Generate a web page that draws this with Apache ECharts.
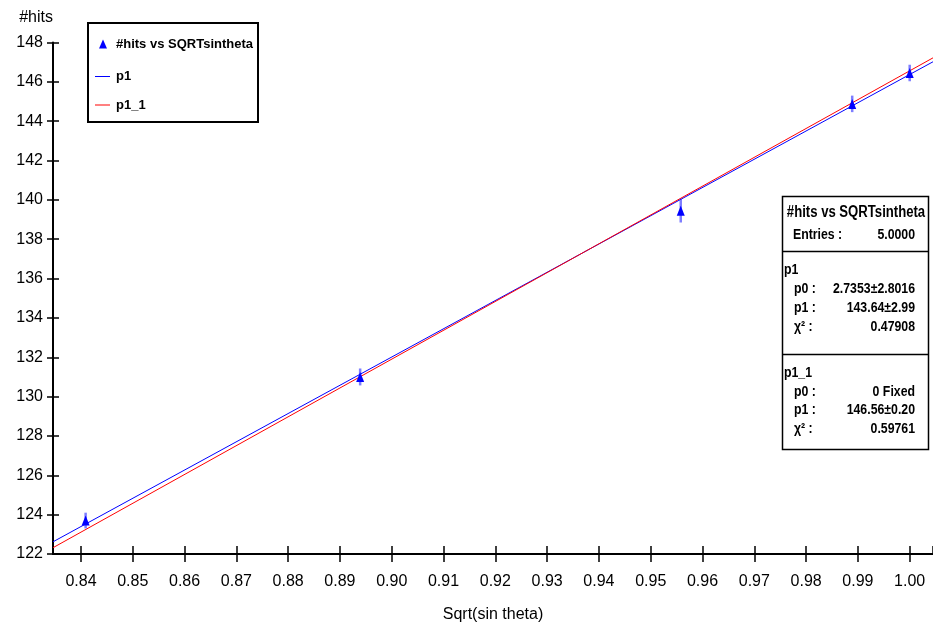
<!DOCTYPE html>
<html><head><meta charset="utf-8">
<script src="https://cdn.jsdelivr.net/npm/echarts@6/dist/echarts.min.js"></script>
<style>html,body{margin:0;padding:0;background:#fff}#c{width:933px;height:624px}</style>
</head><body><div id="c"></div>
<script>
// ---- data ----
const xValues = [0.8409, 0.8939, 0.9558, 0.9889, 1.0000];
const yValues = [123.70, 131.00, 139.45, 144.88, 146.45];
const yErrors = [0.40, 0.43, 0.60, 0.42, 0.42];
const p1Line  = [[0.8346, 122.62], [1.0045, 147.02]];
const p11Line = [[0.8346, 122.32], [1.0045, 147.22]];
const xRange = [0.8346, 1.0045];
const yRange = [122, 148];
const yInterval = 2;
const xTitle = 'Sqrt(sin theta)';
const yTitle = '#hits';
const seriesNames = ['#hits vs SQRTsintheta', 'p1', 'p1_1'];
const statsTitle = '#hits vs SQRTsintheta';
const statsEntries = ['Entries :', '5.0000'];
const statsP1Name = 'p1';
const statsP1Labels = ['p0 :', 'p1 :', 'χ² :'];
const statsP1Values = ['2.7353±2.8016', '143.64±2.99', '0.47908'];
const statsP11Name = 'p1_1';
const statsP11Labels = ['p0 :', 'p1 :', 'χ² :'];
const statsP11Values = ['0 Fixed', '146.56±0.20', '0.59761'];

const FONT = "'Liberation Sans Narrow','Arial Narrow','Liberation Sans',Arial,sans-serif";
const BLUE = '#0000ff', RED = '#ff0000';

const points = xValues.map((x, i) => [x, yValues[i], yErrors[i]]);

function txt(x, y, text, align, size) {
  return { type: 'text', x: x, y: y, silent: true, scaleX: 0.82, scaleY: 1,
    style: { text: text, fill: '#000', fontSize: size || 15, fontWeight: 'bold',
      fontFamily: FONT, align: align || 'left', verticalAlign: 'middle' } };
}

const graphics = [];
// legend frame
graphics.push({ type: 'rect', shape: { x: 88, y: 23, width: 170, height: 99 },
  style: { fill: '#fff', stroke: '#000', lineWidth: 2 }, z: 0, silent: true });
// stats box
graphics.push({ type: 'rect', shape: { x: 782.5, y: 196.5, width: 146, height: 253 },
  style: { fill: '#fff', stroke: '#000', lineWidth: 1.5 }, z: 10, silent: true });
graphics.push({ type: 'line', shape: { x1: 782.5, y1: 251.5, x2: 928.5, y2: 251.5 },
  style: { stroke: '#000', lineWidth: 1.5 }, z: 11, silent: true });
graphics.push({ type: 'line', shape: { x1: 782.5, y1: 354.5, x2: 928.5, y2: 354.5 },
  style: { stroke: '#000', lineWidth: 1.5 }, z: 11, silent: true });
const statTexts = [];
statTexts.push(txt(856, 213, statsTitle, 'center', 16));
statTexts.push(txt(793, 235, statsEntries[0], 'left'));
statTexts.push(txt(915, 235, statsEntries[1], 'right'));
statTexts.push(txt(784, 270, statsP1Name, 'left'));
[289, 308, 327].forEach((y, i) => {
  statTexts.push(txt(794, y, statsP1Labels[i], 'left'));
  statTexts.push(txt(915, y, statsP1Values[i], 'right'));
});
statTexts.push(txt(784, 373, statsP11Name, 'left'));
[392, 410, 429].forEach((y, i) => {
  statTexts.push(txt(794, y, statsP11Labels[i], 'left'));
  statTexts.push(txt(915, y, statsP11Values[i], 'right'));
});
statTexts.forEach(t => { t.z = 12; graphics.push(t); });

const labelStyle = { fontFamily: FONT, fontSize: 16, color: '#000' };
const baseX = { type: 'value', min: xRange[0], max: xRange[1], splitNumber: 17, splitLine: { show: false } };
const baseY = { type: 'value', min: yRange[0], max: yRange[1], interval: yInterval, splitLine: { show: false } };

const legendText = { fontFamily: FONT, fontSize: 13, fontWeight: 'bold', color: '#000' };

const option = {
  animation: false,
  backgroundColor: '#fff',
  graphic: graphics,
  grid: { left: 53, right: 0, top: 42.5, bottom: 70, containLabel: false, outerBoundsMode: 'none' },
  legend: [
    { orient: 'vertical', padding: 0, selectedMode: false, z: 5,
      left: 99, top: 37.5, itemWidth: 8, itemHeight: 9, itemGap: 0,
      data: [{ name: seriesNames[0], icon: 'triangle', itemStyle: { color: BLUE, opacity: 1 } }],
      textStyle: Object.assign({}, legendText, { padding: [0, 0, 0, 4] }) },
    { orient: 'vertical', padding: 0, selectedMode: false, z: 5,
      left: 95, top: 70, itemWidth: 15, itemHeight: 1,
      data: [{ name: seriesNames[1], icon: 'rect', itemStyle: { color: BLUE } }],
      textStyle: Object.assign({}, legendText, { padding: [0, 0, 0, 1] }) },
    { orient: 'vertical', padding: 0, selectedMode: false, z: 5,
      left: 95, top: 98.5, itemWidth: 15, itemHeight: 1,
      data: [{ name: seriesNames[2], icon: 'rect', itemStyle: { color: RED } }],
      textStyle: Object.assign({}, legendText, { padding: [0, 0, 0, 1] }) }
  ],
  xAxis: [
    Object.assign({}, baseX, {
      name: xTitle, nameLocation: 'middle', nameGap: 53,
      nameTextStyle: { fontFamily: FONT, fontSize: 16, color: '#000' },
      axisLine: { show: true, lineStyle: { color: '#000', width: 2 } },
      axisTick: { show: true, inside: false, length: 8, lineStyle: { color: '#000', width: 1.5 } },
      axisLabel: Object.assign({}, labelStyle, { margin: 20, showMinLabel: false, showMaxLabel: false,
        formatter: v => v.toFixed(2) })
    }),
    Object.assign({}, baseX, {
      position: 'bottom',
      axisLine: { show: false },
      axisTick: { show: true, inside: true, length: 8, lineStyle: { color: '#000', width: 1.5 } },
      axisLabel: { show: false }
    })
  ],
  yAxis: [
    Object.assign({}, baseY, {
      name: yTitle, nameLocation: 'end', nameGap: 25,
      nameTextStyle: { fontFamily: FONT, fontSize: 16, color: '#000', align: 'right', verticalAlign: 'middle' },
      axisLine: { show: true, lineStyle: { color: '#000', width: 2 } },
      axisTick: { show: true, inside: false, length: 6, lineStyle: { color: '#000', width: 1.5 } },
      axisLabel: Object.assign({}, labelStyle, { margin: 10 })
    }),
    Object.assign({}, baseY, {
      position: 'left',
      axisLine: { show: false },
      axisTick: { show: true, inside: true, length: 6, lineStyle: { color: '#000', width: 1.5 } },
      axisLabel: { show: false }
    })
  ],
  series: [
    { name: seriesNames[1], type: 'line', data: p1Line, symbol: 'none', z: 3,
      lineStyle: { color: BLUE, width: 1 }, itemStyle: { color: BLUE } },
    { name: seriesNames[2], type: 'line', data: p11Line, symbol: 'none', z: 4,
      lineStyle: { color: RED, width: 1 }, itemStyle: { color: RED } },
    { name: 'errors', type: 'custom', data: points, z: 5, silent: true,
      encode: { x: 0, y: 1 },
      renderItem: function (params, api) {
        const x = api.value(0), y = api.value(1), e = api.value(2);
        const a = api.coord([x, y - e]), b = api.coord([x, y + e]);
        return { type: 'line', shape: { x1: a[0], y1: a[1], x2: b[0], y2: b[1] },
          style: { stroke: 'rgba(40,40,255,0.6)', lineWidth: 2.5 } };
      } },
    { name: seriesNames[0], type: 'scatter', data: points.map(p => [p[0], p[1]]), z: 6,
      symbol: 'triangle', symbolSize: [8, 10], itemStyle: { color: BLUE, opacity: 1 } }
  ]
};
const chart = echarts.init(document.getElementById('c'), null, { renderer: 'canvas' });
chart.setOption(option);
</script></body></html>
